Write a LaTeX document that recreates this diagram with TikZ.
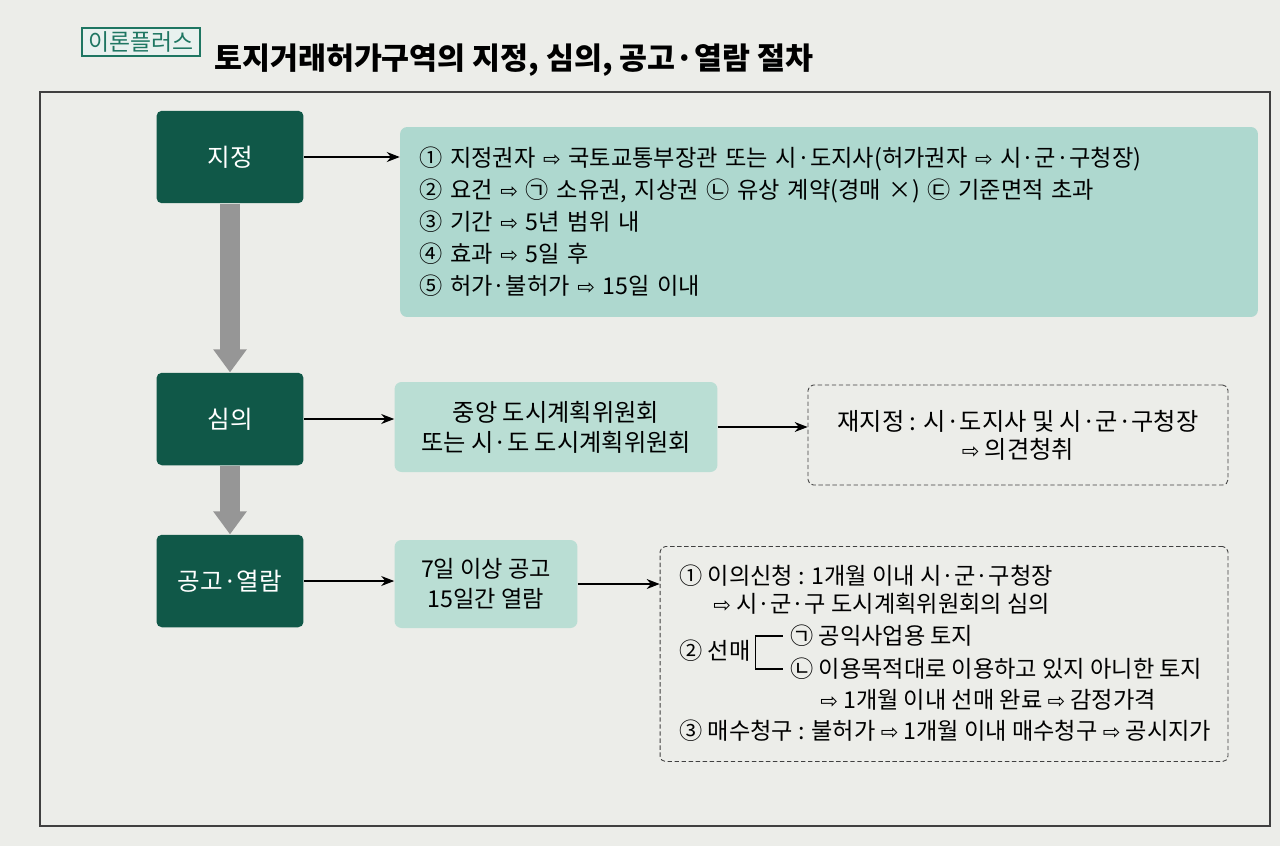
\documentclass[tikz,border=0pt]{standalone}
\usepackage{fontspec}
\setmainfont{Noto Sans CJK KR}
\newfontfamily\symf{DejaVu Sans}
\usetikzlibrary{arrows.meta, positioning, calc}
\definecolor{deepgreen}{RGB}{16,88,72}
\definecolor{mint}{RGB}{174,216,207}
\definecolor{mintsoft}{RGB}{186,222,212}
\definecolor{shaftgray}{RGB}{150,150,150}
\definecolor{pagebg}{RGB}{236,237,233}
\definecolor{tagteal}{RGB}{30,118,98}
\newcommand{\wra}{{\symf\fontsize{12}{12}\selectfont ⇨}}

\begin{document}
\begin{tikzpicture}[x=0.02cm, y=-0.02cm,
  every node/.style={font=\fontsize{13.2}{17}\selectfont},
  stage/.style={fill=deepgreen, rounded corners=3pt, text=white, minimum width=2.94cm, minimum height=1.85cm, font=\fontsize{14}{16}\selectfont},
  infobox/.style={fill=mint, rounded corners=4pt},
  notebox/.style={draw=black!75, dash pattern=on 2.5pt off 1.5pt, rounded corners=3pt, line width=0.5pt},
  itemtxt/.style={anchor=west, inner sep=0pt},
  flow/.style={-{Stealth[length=2.6mm, width=2mm]}, line width=0.6pt},
  down/.style={draw=shaftgray, line width=0.4cm, -{Triangle[width=0.64cm, length=0.46cm]}}]
  \useasboundingbox (0,0) rectangle (1280,846);
  \fill[pagebg] (0,0) rectangle (1280,846);

  % heading
  \node[draw=tagteal, line width=1pt, fill=tagteal!10, text=tagteal, minimum width=2.36cm, minimum height=0.54cm, inner sep=2pt, font=\fontsize{13}{14}\selectfont] (tag) at (141,42) {이론플러스};
  \node[anchor=west, font=\fontsize{17.3}{20}\selectfont\bfseries] (title) at (208,60) {토지거래허가구역의 지정, 심의, 공고·열람 절차};
  \draw[black!75, line width=1pt] (40,92) rectangle (1270,826);

  % stages
  \node[stage] (jj) at (230,157) {지정};
  \node[stage] (sm) at (230,419) {심의};
  \node[stage] (gg) at (230,581) {공고·열람};

  % contents
  \node[infobox, minimum width=17.16cm, minimum height=3.8cm, text width=16.4cm, inner xsep=0.38cm, align=left, font=\fontsize{13.2}{18.2}\selectfont] (req) at (829,222) {① 지정권자 \wra{} 국토교통부장관 또는 시·도지사(허가권자 \wra{} 시·군·구청장)\\
    ② 요건 \wra{} ㉠ 소유권, 지상권 ㉡ 유상 계약(경매 ×) ㉢ 기준면적 초과\\
    ③ 기간 \wra{} 5년 범위 내\\
    ④ 효과 \wra{} 5일 후\\
    ⑤ 허가·불허가 \wra{} 15일 이내};
  \node[infobox, fill=mintsoft, minimum width=6.46cm, minimum height=1.8cm, align=center, font=\fontsize{13.8}{17}\selectfont] (cmt) at (556,427) {중앙 도시계획위원회\\또는 시·도 도시계획위원회};
  \node[notebox, minimum width=8.4cm, minimum height=2cm, align=center, font=\fontsize{13.8}{16}\selectfont] (redo) at (1018,435) {재지정 : 시·도지사 및 시·군·구청장\\\wra{} 의견청취};
  \node[infobox, fill=mintsoft, minimum width=3.66cm, minimum height=1.76cm, align=center] (pub) at (486,584) {7일 이상 공고\\15일간 열람};
  \node[notebox, minimum width=11.36cm, minimum height=4.3cm] (obj) at (944,654) {};

  \node[itemtxt] (ob1) at (679,576) {① 이의신청 : 1개월 이내 시·군·구청장};
  \node[itemtxt] (ob1b) at (713,604) {\wra{} 시·군·구 도시계획위원회의 심의};
  \node[itemtxt] (ob2) at (679,651) {② 선매};
  \node[itemtxt] (ob2a) at (790,636) {㉠ 공익사업용 토지};
  \node[itemtxt] (ob2b) at (790,669) {㉡ 이용목적대로 이용하고 있지 아니한 토지};
  \node[itemtxt] (ob2c) at (820,700) {\wra{} 1개월 이내 선매 완료 \wra{} 감정가격};
  \node[itemtxt] (ob3) at (679,731) {③ 매수청구 : 불허가 \wra{} 1개월 이내 매수청구 \wra{} 공시지가};
  \draw[line width=0.6pt] ([xshift=-4pt]ob2a.west) -| ([xshift=2.5pt]ob2.east) |- ([xshift=-4pt]ob2b.west);

  % connectors
  \draw[down] (jj.south) -- (sm.north);
  \draw[down] (sm.south) -- (gg.north);
  \draw[flow] (jj.east) -- (jj.east -| req.west);
  \draw[flow] (sm.east) -- (sm.east -| cmt.west);
  \draw[flow] (cmt.east) -- (cmt.east -| redo.west);
  \draw[flow] (gg.east) -- (gg.east -| pub.west);
  \draw[flow] (pub.east) -- (pub.east -| obj.west);
\end{tikzpicture}
\end{document}
